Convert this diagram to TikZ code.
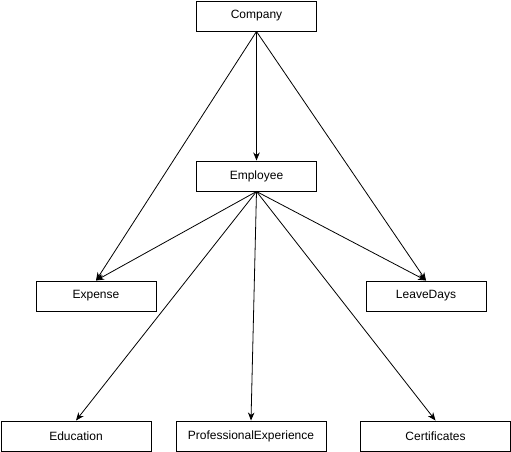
\documentclass[tikz,border=0pt]{standalone}
\usepackage{fontspec}
\setmainfont{Liberation Sans}
\usetikzlibrary{arrows.meta}
\begin{document}
\begin{tikzpicture}[x=1pt,y=-1pt,
  box/.style={draw=black,line width=1pt,fill=white,minimum width=#1,minimum height=30pt,inner sep=0pt,font=\fontsize{12}{14}\selectfont,anchor=north west},
  box/.default=120pt,
  edge/.style={draw=black,line width=0.8pt,-{Stealth[length=8pt,width=6.5pt,inset=2.5pt]}}]
\useasboundingbox (0,0) rectangle (511,451);
\node[box] (company) at (196,0.5) {Company};
\node[box] (employee) at (196,160.5) {Employee};
\node[box] (expense) at (35.5,280.5) {Expense};
\node[box] (leave) at (365.5,280.5) {LeaveDays};
\node[box=150pt] (edu) at (0.5,420.5) {Education};
\node[box=150pt] (prof) at (175.5,420.5) {ProfessionalExperience};
\node[box=150pt] (cert) at (360,420.5) {Certificates};
\draw[edge] (company.south) -- (employee.north);
\draw[edge] (company.south) -- (expense.north);
\draw[edge] (company.south) -- (leave.north);
\draw[edge] (employee.south) -- (expense.north);
\draw[edge] (employee.south) -- (leave.north);
\draw[edge] (employee.south) -- (edu.north);
\draw[edge] (employee.south) -- (prof.north);
\draw[edge] (employee.south) -- (cert.north);
\end{tikzpicture}
\end{document}
